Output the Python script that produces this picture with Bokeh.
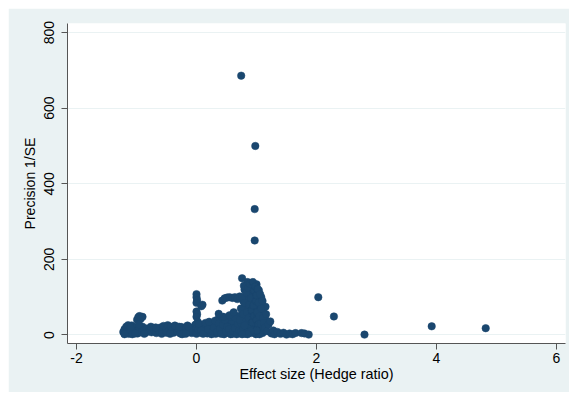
from bokeh.plotting import figure
from bokeh.models import FixedTicker, Range1d, ColumnDataSource, Spacer
from bokeh.layouts import column, row
from bokeh.embed import file_html
from bokeh.resources import INLINE

# Effect size (Hedge ratio) and precision (1/SE)
effect = [
    -1.22, -1.2, -1.18, -1.17, -1.15, -1.13, -1.12, -1.1, -1.08, -1.06, -1.05, -1.03, -1.0,
    -0.99, -0.97, -0.95, -0.93, -0.9, -0.98, -0.95, -0.92, -0.9, -0.88, -0.85, -0.83, -0.8,
    -0.78, -0.75, -0.72, -0.7, -0.67, -0.65, -0.62, -0.6, -0.57, -0.55, -0.52, -0.5, -0.48,
    -0.46, -0.43, -0.4, -0.38, -0.35, -0.32, -0.3, -0.27, -0.25, -0.22, -0.2, -0.17, -0.15,
    -0.12, -0.1, -0.08, -0.05, -0.03, -0.02,
    -1.2, -1.14, -1.1, -1.07, -1.02, -0.96, -0.87, -0.76, -0.68, -0.58, -0.5, -0.44, -0.36,
    -0.29, -0.24, -0.18, -0.13, -0.06, -0.01,
    0.0, 0.0, 0.01, 0.0, 0.1, 0.08, 0.0, 0.01, 0.0, 0.02, 0.0, 0.0, 0.01, 0.0,
    0.03, 0.05, 0.07, 0.1, 0.12, 0.14, 0.16, 0.18, 0.2, 0.22, 0.24, 0.26, 0.28, 0.3, 0.32,
    0.33, 0.35, 0.36, 0.38, 0.4, 0.42, 0.43, 0.45, 0.46, 0.48, 0.5, 0.5, 0.52, 0.53, 0.55,
    0.56, 0.58, 0.6, 0.6, 0.62, 0.63, 0.65, 0.66, 0.68, 0.7, 0.7, 0.72,
    0.04, 0.08, 0.11, 0.15, 0.19, 0.21, 0.25, 0.27, 0.29, 0.31, 0.34, 0.37, 0.39, 0.41,
    0.44, 0.47, 0.49, 0.51, 0.54, 0.57, 0.59, 0.61, 0.64, 0.67, 0.69, 0.71, 0.45, 0.58, 0.65,
    0.43, 0.47, 0.51, 0.55, 0.6, 0.64, 0.68, 0.72,
    0.37, 0.55, 0.62,
    0.74, 0.75, 0.76, 0.77, 0.78, 0.78, 0.8, 0.8, 0.81, 0.82, 0.83, 0.84, 0.85, 0.85, 0.86,
    0.87, 0.88, 0.88, 0.9, 0.9, 0.91, 0.92, 0.93, 0.93, 0.94, 0.95, 0.95, 0.96, 0.97, 0.97,
    0.98, 0.98, 0.99, 1.0, 1.0, 1.01, 1.02, 1.02, 1.03, 1.04, 1.04, 1.05, 1.06, 1.07, 1.08,
    1.08, 1.1, 1.1, 1.12, 1.13, 1.15, 1.15,
    0.72, 0.74, 0.76, 0.78, 0.79, 0.8, 0.82, 0.83, 0.84, 0.86, 0.87, 0.88, 0.89, 0.9, 0.91,
    0.92, 0.93, 0.94, 0.95, 0.96, 0.96, 0.97, 0.98, 0.99, 1.0, 1.0, 1.01, 1.02, 1.03, 1.04,
    1.05, 1.06, 1.07, 1.08, 1.09, 1.1, 1.11, 1.12, 1.14, 1.16, 1.05, 1.0, 0.9, 0.85, 0.8, 0.76,
    1.18, 1.2, 1.23, 1.25, 1.28, 1.3, 1.35, 1.4, 1.45, 1.5, 1.55, 1.6, 1.65, 1.75, 1.8, 1.87,
    0.745, 0.98, 0.97, 0.97, 2.03, 2.29, 2.8, 3.92, 4.82,
]
precision = [
    8, 15, 5, 22, 12, 3, 18, 9, 25, 6, 14, 20, 10,
    40, 47, 50, 43, 48, 4, 16, 8, 22, 12, 6, 17, 10,
    14, 7, 18, 11, 5, 15, 9, 20, 13, 24, 8, 17, 26,
    11, 22, 14, 6, 19, 10, 16, 4, 21, 12, 8, 18, 25,
    10, 15, 5, 20, 12, 27,
    2, 26, 20, 2, 4, 28, 3, 22, 20, 3, 6, 3, 25,
    22, 2, 3, 22, 8, 16,
    108, 100, 92, 85, 80, 76, 62, 55, 48, 35, 28, 18, 8, 3,
    14, 22, 6, 17, 27, 9, 20, 4, 13, 24, 8, 18, 30, 12, 3,
    22, 40, 15, 7, 26, 35, 11, 19, 2, 30, 14, 45, 6, 23, 36,
    10, 28, 17, 3, 42, 25, 8, 33, 14, 50, 21, 5,
    30, 12, 3, 32, 15, 35, 2, 10, 20, 38, 8, 30, 16, 3,
    27, 40, 9, 22, 15, 2, 38, 10, 18, 2, 30, 12, 48, 47, 45,
    91, 97, 99, 100, 98, 100, 95, 102,
    56, 52, 60,
    8, 30, 150, 60, 15, 90, 45, 120, 3, 75, 22, 105, 38, 140, 10,
    68, 95, 28, 52, 115, 5, 82, 18, 125, 40, 100, 62, 12, 88, 30,
    110, 48, 2, 72, 134, 20, 95, 56, 8, 118, 35, 80, 14, 65, 44,
    100, 25, 5, 58, 16, 40, 75,
    40, 70, 100, 55, 130, 85, 35, 112, 60, 125, 45, 80, 135, 20, 98,
    65, 33, 140, 78, 118, 50, 8, 128, 90, 40, 105, 60, 122, 28, 85,
    50, 108, 30, 70, 12, 90, 45, 32, 20, 55, 2, 12, 10, 2, 25, 2,
    10, 28, 36, 4, 12, 2, 8, 3, 6, 1, 4, 2, 5, 5, 4, 1,
    686, 500, 333, 250, 100, 49, 1, 23, 18,
]

x_ticks = [-2, 0, 2, 4, 6]
y_ticks = [0, 200, 400, 600, 800]

NAVY = "#1A476F"
BG = "#EAF2F3"
FONT = "Liberation Sans"

p = figure(width=561, height=384, output_backend="svg", toolbar_location=None,
           x_range=Range1d(-2.15, 6.15), y_range=Range1d(-22.5, 824),
           min_border_left=59, min_border_right=4, min_border_top=15, min_border_bottom=49)
p.border_fill_color = BG
p.background_fill_color = "white"
p.outline_line_color = None

src = ColumnDataSource(dict(x=effect, y=precision))
p.scatter("x", "y", source=src, size=7.5, fill_color=NAVY, line_color=NAVY, line_width=0.5)

for ax in (p.xaxis[0], p.yaxis[0]):
    ax.axis_line_color = "#555555"
    ax.major_tick_line_color = "#555555"
    ax.major_tick_out = 6
    ax.major_tick_in = 0
    ax.minor_tick_line_color = None
    ax.major_label_text_font = FONT
    ax.major_label_text_font_size = "14px"
    ax.major_label_text_color = "black"
    ax.axis_label_text_font = FONT
    ax.axis_label_text_font_style = "normal"
    ax.axis_label_text_color = "black"

p.xaxis.axis_label_text_font_size = "14.4px"
p.yaxis.axis_label_text_font_size = "14px"
p.xaxis.ticker = FixedTicker(ticks=x_ticks)
p.yaxis.ticker = FixedTicker(ticks=y_ticks)
p.xaxis.major_label_overrides = {t: str(t) for t in x_ticks}
p.yaxis.major_label_overrides = {t: str(t) for t in y_ticks}
p.yaxis.major_label_orientation = "vertical"
p.xaxis.axis_label = "Effect size (Hedge ratio)"
p.yaxis.axis_label = "Precision 1/SE"
p.xaxis.major_label_standoff = 3
p.yaxis.major_label_standoff = 7
p.xaxis.axis_label_standoff = 0
p.yaxis.axis_label_standoff = 4

p.xgrid.grid_line_color = None
p.ygrid.grid_line_color = BG
p.ygrid.grid_line_width = 1

layout = column(Spacer(height=8), row(Spacer(width=8), p))
open("out.html", "w").write(file_html(layout, INLINE))
